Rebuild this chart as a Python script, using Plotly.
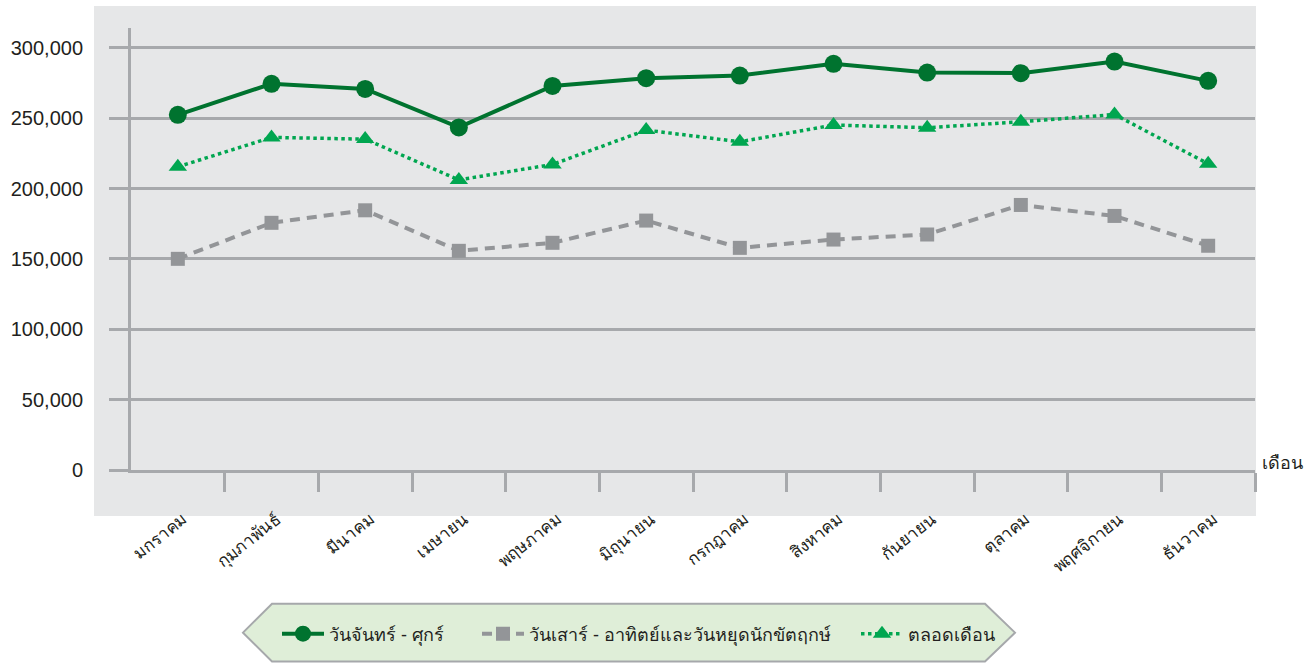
import plotly.graph_objects as go

# monthly passenger counts
months = ['มกราคม', 'กุมภาพันธ์', 'มีนาคม', 'เมษายน', 'พฤษภาคม', 'มิถุนายน',
          'กรกฎาคม', 'สิงหาคม', 'กันยายน', 'ตุลาคม', 'พฤศจิกายน', 'ธันวาคม']
weekday = [252500, 274500, 270900, 243500, 273000, 278500,
           280400, 288700, 282500, 282100, 290300, 276600]
weekend = [150100, 175700, 184600, 155800, 161500, 177300,
           157900, 163800, 167400, 188400, 180600, 159400]
whole_month = [215500, 236400, 235200, 206200, 217200, 241600,
               233300, 245200, 243300, 247500, 252700, 217700]
y_ticks = [0, 50000, 100000, 150000, 200000, 250000, 300000]

names = ['วันจันทร์ - ศุกร์', 'วันเสาร์ - อาทิตย์และวันหยุดนักขัตฤกษ์', 'ตลอดเดือน']

PANEL = '#e6e7e8'
GRID = '#a7a9ac'
FONT = 'Liberation Sans, Noto Sans, sans-serif'

# plot area in pixels, used to place the decorations
L, R, T, B = 131, 1255, 28, 471
PX_PER_1000 = 1.41


def px_x(p):
    return (p - L) / (R - L)


def px_y(p):
    return (B - p) / (B - T)


x = list(range(len(months)))

fig = go.Figure()
fig.add_trace(go.Scatter(
    x=x, y=weekday, name=names[0], mode='lines+markers', legend='legend',
    line=dict(color='#00732f', width=4),
    marker=dict(symbol='circle', size=18, color='#00732f'),
))
fig.add_trace(go.Scatter(
    x=x, y=weekend, name=names[1], mode='lines+markers', legend='legend2',
    line=dict(color='#939598', width=4, dash='10px,7px'),
    marker=dict(symbol='square', size=14, color='#939598'),
))
fig.add_trace(go.Scatter(
    x=x, y=whole_month, name=names[2], mode='lines+markers', legend='legend3',
    line=dict(color='#00a650', width=3.5, dash='3.5px,3.5px'),
    marker=dict(symbol='triangle-up', size=16, color='#00a650'),
))

# grey panel behind the chart and the hexagon behind the legend
hexagon = [(243, 634), (272, 605), (985, 605), (1015, 634), (985, 663), (272, 663)]
path = 'M ' + ' L '.join(f'{px_x(a):.5f},{px_y(b):.5f}' for a, b in hexagon) + ' Z'
fig.update_layout(shapes=[
    dict(type='rect', xref='paper', yref='paper', layer='below',
         x0=px_x(94), x1=px_x(1256), y0=px_y(517), y1=px_y(6),
         fillcolor=PANEL, line=dict(width=0)),
    dict(type='path', xref='paper', yref='paper', layer='below', path=path,
         fillcolor='#dfeed8', line=dict(color='#a6a8ab', width=2)),
])


def legend_at(px):
    return dict(orientation='h', x=px_x(px), xanchor='left', y=px_y(634), yanchor='middle',
                itemwidth=42, bgcolor='rgba(0,0,0,0)', font=dict(size=18, color='#231f20'))


fig.update_layout(
    width=1309, height=663,
    margin=dict(l=L, r=1309 - R, t=T, b=663 - B),
    paper_bgcolor='white',
    plot_bgcolor='rgba(0,0,0,0)',
    font=dict(family=FONT, color='#231f20'),
    hovermode=False,
    showlegend=True,
    legend=legend_at(277),
    legend2=legend_at(477),
    legend3=legend_at(856),
    xaxis=dict(
        range=[-0.5, 11.5], tickvals=x, ticktext=months, tickangle=-38,
        ticks='', showgrid=False, zeroline=False,
        showline=True, linecolor=GRID, linewidth=3,
        tickfont=dict(size=17), ticklabelstandoff=30, ticklabelshift=5,
        minor=dict(tickvals=[i + 0.5 for i in x], ticks='outside', ticklen=19,
                   tickwidth=3, tickcolor=GRID, showgrid=False),
    ),
    yaxis=dict(
        range=[0, (B - T) / PX_PER_1000 * 1000], tickvals=y_ticks, tickformat=',d',
        ticks='outside', ticklen=19, tickwidth=2.5, tickcolor=GRID,
        showgrid=True, gridcolor=GRID, gridwidth=2.5, zeroline=False,
        showline=True, linecolor=GRID, linewidth=3,
        tickfont=dict(size=20, color='#231f20'), ticklabelstandoff=22,
    ),
    annotations=[dict(
        text='เดือน', xref='paper', yref='paper', x=px_x(1260), y=px_y(464),
        xanchor='left', yanchor='middle', showarrow=False, font=dict(size=18),
    )],
)

# the page has a default body margin; drop it so the chart sits at the window corner
fig.write_html('out.html', config={'displayModeBar': False},
               post_script="document.body.style.margin='0';")
